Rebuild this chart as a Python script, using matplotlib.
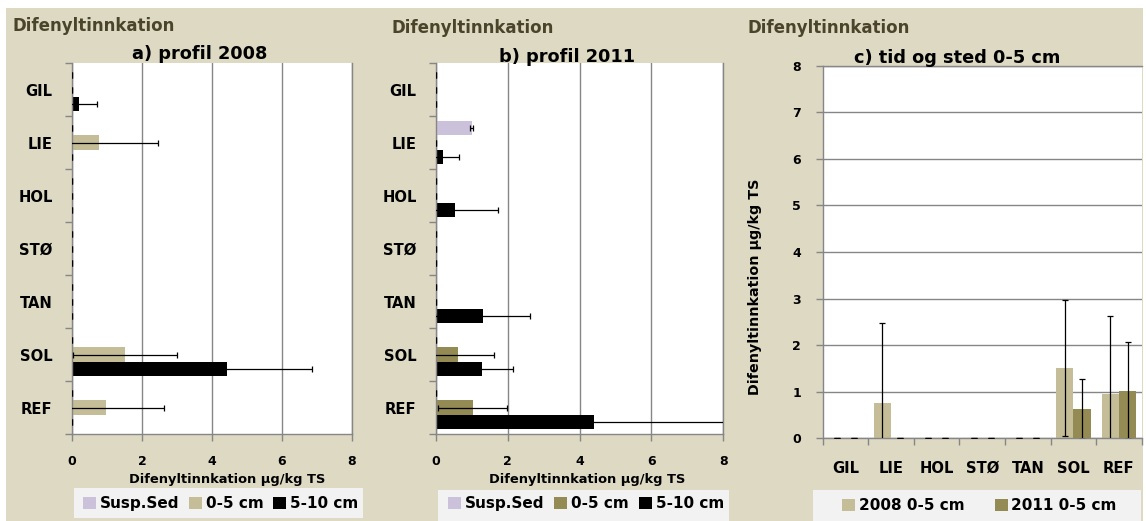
import matplotlib
matplotlib.use("Agg")
import matplotlib.pyplot as plt
import numpy as np
from matplotlib.patches import Rectangle, Patch

plt.rcParams['font.family'] = ['DejaVu Sans']
plt.rcParams['font.weight'] = 'bold'

# ---------------- data ----------------
sites = ['GIL', 'LIE', 'HOL', 'STØ', 'TAN', 'SOL', 'REF']
profile_names = ['Susp.Sed', '0-5 cm', '5-10 cm']
time_names = ['2008 0-5 cm', '2011 0-5 cm']
x_ticks_ab = [0, 2, 4, 6, 8]
y_ticks_c = [0, 1, 2, 3, 4, 5, 6, 7, 8]

# a) profil 2008
a_susp = [0, 0, 0, 0, 0, 0, 0]
a_susp_err = [0, 0, 0, 0, 0, 0, 0]
a_top = [0, 0.76, 0, 0, 0, 1.51, 0.97]
a_top_err = [0, 1.71, 0, 0, 0, 1.48, 1.67]
a_deep = [0.20, 0, 0, 0, 0, 4.43, 0]
a_deep_err = [0.50, 0, 0, 0, 0, 2.44, 0]

# b) profil 2011
b_susp = [0, 0.99, 0, 0, 0, 0, 0]
b_susp_err = [0, 0.03, 0, 0, 0, 0, 0]
b_top = [0, 0, 0, 0, 0, 0.62, 1.02]
b_top_err = [0, 0, 0, 0, 0, 1.00, 0.97]
b_deep = [0, 0.19, 0.53, 0, 1.30, 1.29, 4.39]
b_deep_err = [0, 0.46, 1.21, 0, 1.32, 0.85, 4.00]

# c) tid og sted 0-5 cm
c_2008 = [0, 0.75, 0, 0, 0, 1.52, 0.95]
c_2008_err = [0, 1.72, 0, 0, 0, 1.46, 1.67]
c_2011 = [0, 0, 0, 0, 0, 0.63, 1.02]
c_2011_err = [0, 0, 0, 0, 0, 0.65, 1.04]

# ---------------- style ----------------
BG = '#DDD9C3'
HEAD = '#4A452A'
GRID = '#868686'
LEGBG = '#F2F2F2'
C_SUSP = '#CCC1DA'
C_TAN = '#C4BD97'
C_OLIVE = '#948A54'
C_BLACK = '#000000'

FS_HEAD = 12
FS_TITLE = 12.8
FS_CAT = 10.6
FS_NUM = 9
FS_XLAB = 9.4
FS_YLAB = 10.3
FS_LEG = 11

W, H = 1146, 521
fig = plt.figure(figsize=(W / 100, H / 100), dpi=100)
fig.patch.set_facecolor('white')


def fx(px):
    return px / W


def fy(py):
    return 1 - py / H


def frect(x0, y0, x1, y1):
    # pixel box (top-origin) -> [left, bottom, width, height]
    return [fx(x0), fy(y1), fx(x1) - fx(x0), fy(y0) - fy(y1)]


fig.patches.append(Rectangle((fx(6), 0), fx(1143) - fx(6), fy(8),
                             transform=fig.transFigure, facecolor=BG,
                             edgecolor='none', zorder=-10))


def legend_box(x0, y0, x1, y1, cx0, cx1, cy, handles, labels):
    fig.patches.append(Rectangle((fx(x0), fy(y1)), fx(x1) - fx(x0), fy(y0) - fy(y1),
                                 transform=fig.transFigure, facecolor=LEGBG,
                                 edgecolor='none', zorder=-5))
    fig.legend(handles, labels, loc='center',
               bbox_to_anchor=(fx(cx0), fy(cy) - 0.01, fx(cx1) - fx(cx0), 0.02),
               mode='expand', ncol=len(labels), frameon=False,
               borderpad=0, borderaxespad=0, handlelength=0.85, handleheight=0.85,
               handletextpad=0.25, columnspacing=0.3, fontsize=FS_LEG)


BW = 0.275
ERR_KW = dict(fmt='none', ecolor='black', elinewidth=0.9, capsize=2.2, capthick=0.9)


def profile_panel(rect, series, errs, colors, title, title_x, title_y,
                  head_x, head_y, xlab_x):
    ax = fig.add_axes(rect)
    ax.set_facecolor('white')
    y = np.arange(len(sites))
    offs = [-BW, 0, BW]
    for vals, err, col, off, name in zip(series, errs, colors, offs, profile_names):
        ax.barh(y + off, vals, height=BW, color=col, label=name, zorder=2)
        ax.errorbar(vals, y + off, xerr=err, zorder=3, **ERR_KW)
    ax.set_xlim(0, 8)
    ax.set_ylim(len(sites) - 0.5, -0.5)
    ax.set_axisbelow(True)
    ax.set_xticks(x_ticks_ab)
    ax.set_xticklabels([str(v) for v in x_ticks_ab], fontsize=FS_NUM, fontweight='bold')
    ax.xaxis.grid(True, color=GRID, lw=1)
    ax.tick_params(axis='x', length=5, width=1, color=GRID, pad=10)
    ax.set_yticks(np.arange(len(sites) + 1) - 0.5)
    ax.set_yticklabels([])
    ax.set_yticks(y, minor=True)
    ax.set_yticklabels(sites, minor=True, fontsize=FS_CAT, fontweight='bold')
    ax.tick_params(axis='y', which='major', length=5, width=1, color=GRID)
    ax.tick_params(axis='y', which='minor', length=0, pad=14)
    for s in ['left', 'bottom', 'right']:
        ax.spines[s].set_color(GRID)
        ax.spines[s].set_linewidth(1)
    ax.spines['top'].set_visible(False)
    ax.set_xlabel('Difenyltinnkation µg/kg TS', fontsize=FS_XLAB, fontweight='bold')
    ax.xaxis.set_label_coords(fx(xlab_x), fy(482.7), transform=fig.transFigure)
    ax.xaxis.label.set_verticalalignment('baseline')
    fig.text(fx(title_x), fy(title_y), title, ha='center', va='baseline',
             fontsize=FS_TITLE, fontweight='bold', color='black')
    fig.text(fx(head_x), fy(head_y), 'Difenyltinnkation', ha='left', va='baseline',
             fontsize=FS_HEAD, fontweight='bold', color=HEAD)
    return ax


# panel a
profile_panel(frect(72, 63, 352, 434),
              [a_susp, a_top, a_deep], [a_susp_err, a_top_err, a_deep_err],
              [C_SUSP, C_TAN, C_BLACK], 'a) profil 2008', 199.7, 59.3,
              12.7, 30.7, 227)
legend_box(74, 488, 363, 518, 82.7, 358, 503.5,
           [Patch(facecolor=c) for c in [C_SUSP, C_TAN, C_BLACK]], profile_names)

# panel b
profile_panel(frect(436, 63, 723.3, 434),
              [b_susp, b_top, b_deep], [b_susp_err, b_top_err, b_deep_err],
              [C_SUSP, C_OLIVE, C_BLACK], 'b) profil 2011', 567.5, 61.7,
              391.7, 33.3, 586.7)
legend_box(438, 490, 729, 521, 447.7, 724, 503.5,
           [Patch(facecolor=c) for c in [C_SUSP, C_OLIVE, C_BLACK]], profile_names)

# panel c
axc = fig.add_axes(frect(822.7, 65.7, 1141.7, 438.3))
axc.set_facecolor('white')
xc = np.arange(len(sites))
CW = 0.38
ERR_C = dict(fmt='none', ecolor='black', elinewidth=0.9, capsize=2.5, capthick=0.9)
axc.bar(xc - CW / 2, c_2008, width=CW, color=C_TAN, label=time_names[0], zorder=2)
axc.errorbar(xc - CW / 2, c_2008, yerr=c_2008_err, zorder=3, **ERR_C)
axc.bar(xc + CW / 2, c_2011, width=CW, color=C_OLIVE, label=time_names[1], zorder=2)
axc.errorbar(xc + CW / 2, c_2011, yerr=c_2011_err, zorder=3, **ERR_C)
axc.set_ylim(0, 8)
axc.set_xlim(-0.5, len(sites) - 0.5)
axc.set_axisbelow(True)
axc.set_yticks(y_ticks_c)
axc.set_yticklabels([str(v) for v in y_ticks_c], fontsize=FS_NUM, fontweight='bold')
axc.yaxis.grid(True, color=GRID, lw=1)
axc.tick_params(axis='y', length=5, width=1, color=GRID, pad=10.5)
axc.set_xticks(np.arange(len(sites) + 1) - 0.5)
axc.set_xticklabels([])
axc.set_xticks(xc, minor=True)
axc.set_xticklabels(sites, minor=True, fontsize=FS_CAT, fontweight='bold')
axc.tick_params(axis='x', which='major', length=5, width=1, color=GRID)
axc.tick_params(axis='x', which='minor', length=0, pad=16)
for s in ['left', 'bottom', 'top']:
    axc.spines[s].set_color(GRID)
    axc.spines[s].set_linewidth(1)
axc.spines['right'].set_visible(False)
axc.set_ylabel('Difenyltinnkation µg/kg TS', fontsize=FS_YLAB, fontweight='bold')
axc.yaxis.set_label_coords(fx(755), fy(286.5), transform=fig.transFigure)
axc.yaxis.label.set_verticalalignment('center')
axc.yaxis.label.set_horizontalalignment('center')
fig.text(fx(956.7), fy(63.3), 'c) tid og sted 0-5 cm', ha='center', va='baseline',
         fontsize=FS_TITLE, fontweight='bold', color='black')
fig.text(fx(747.3), fy(33.3), 'Difenyltinnkation', ha='left', va='baseline',
         fontsize=FS_HEAD, fontweight='bold', color=HEAD)
legend_box(812.7, 490, 1141, 521, 841.7, 1116.7, 505.5,
           [Patch(facecolor=c) for c in [C_TAN, C_OLIVE]], time_names)

fig.savefig('out.png', dpi=100, facecolor=fig.get_facecolor())
